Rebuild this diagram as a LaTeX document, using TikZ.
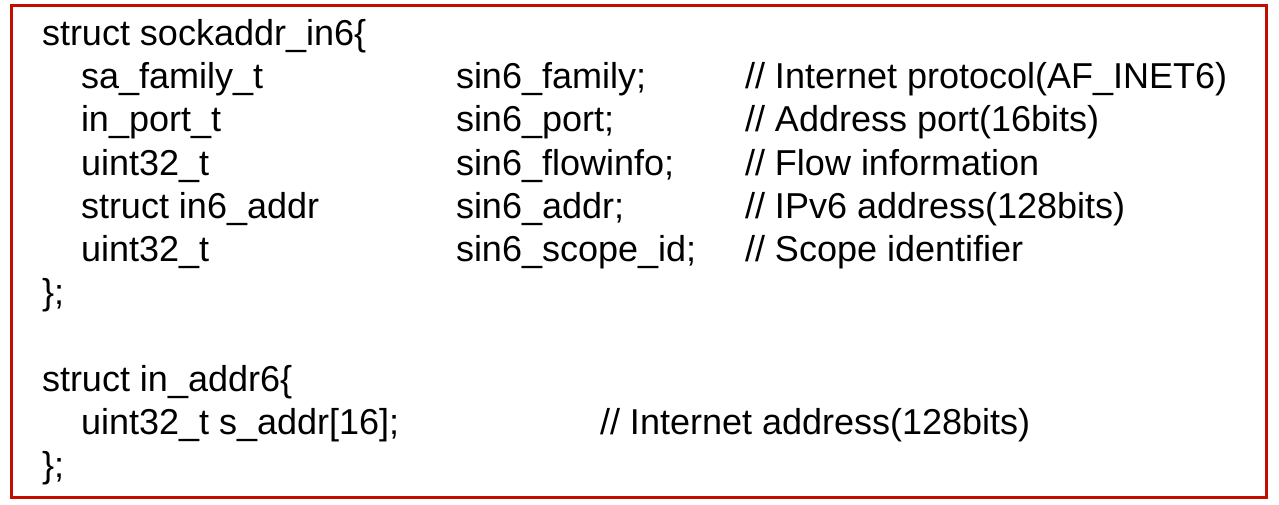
\documentclass[tikz,border=0pt]{standalone}
\usepackage{fontspec}
\setmainfont{Liberation Sans}
\definecolor{frame}{RGB}{196,12,0}
\begin{document}
\begin{tikzpicture}[x=1pt,y=-1pt,
  code/.style={anchor=base west,inner sep=0pt,outer sep=0pt,font=\fontsize{36}{43.2}\selectfont,text=black},
  framebox/.style={draw=frame,line width=3pt}]
\useasboundingbox (0,0) rectangle (1279,505);
\node[framebox,minimum width=1255pt,minimum height=492pt,inner sep=0pt,anchor=north west] (frm) at (10,4) {};
\def\bl{45.5}
\node[code] (a1) at (42,45.5) {struct sockaddr\_in6\{};
\node[code] (a2) at (81,88.7) {sa\_family\_t};
\node[code] (b2) at (456,88.7) {sin6\_family;};
\node[code] (c2) at (745,88.7) {// Internet protocol(AF\_INET6)};
\node[code] (a3) at (81,131.9) {in\_port\_t};
\node[code] (b3) at (456,131.9) {sin6\_port;};
\node[code] (c3) at (745,131.9) {// Address port(16bits)};
\node[code] (a4) at (81,175.1) {uint32\_t};
\node[code] (b4) at (456,175.1) {sin6\_flowinfo;};
\node[code] (c4) at (745,175.1) {// Flow information};
\node[code] (a5) at (81,218.3) {struct in6\_addr};
\node[code] (b5) at (456,218.3) {sin6\_addr;};
\node[code] (c5) at (745,218.3) {// IPv6 address(128bits)};
\node[code] (a6) at (81,261.5) {uint32\_t};
\node[code] (b6) at (456,261.5) {sin6\_scope\_id;};
\node[code] (c6) at (745,261.5) {// Scope identifier};
\node[code] (a7) at (42,304.7) {\};};
\node[code] (a9) at (42,391.1) {struct in\_addr6\{};
\node[code] (a10) at (81,434.3) {uint32\_t s\_addr[16];};
\node[code] (c10) at (600,434.3) {// Internet address(128bits)};
\node[code] (a11) at (42,477.5) {\};};
\end{tikzpicture}
\end{document}
